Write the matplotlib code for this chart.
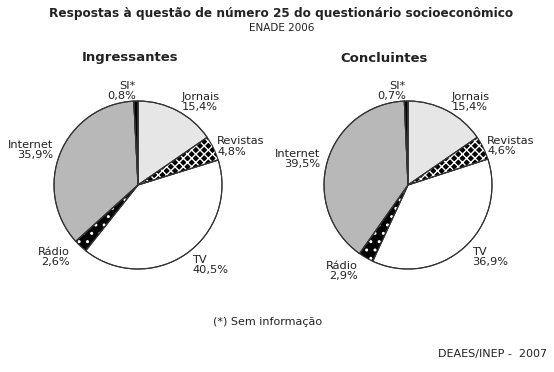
import matplotlib
matplotlib.use("Agg")
import matplotlib.pyplot as plt
import numpy as np

categories = ["Jornais", "Revistas", "TV", "Rádio", "Internet", "SI*"]
ingressantes = [15.4, 4.8, 40.5, 2.6, 35.9, 0.8]
concluintes = [15.4, 4.6, 36.9, 2.9, 39.5, 0.7]

colors = ["#e6e6e6", "black", "white", "black", "#b8b8b8", "black"]
hatches = [None, "xxxx", None, "..", None, None]
label_dist = [1.12, 1.05, 1.15, 1.18, 1.09, 1.12]

W, H = 554, 372


def draw_pie(ax, values):
    wedges, _ = ax.pie(values, colors=colors, startangle=90, counterclock=False,
                       wedgeprops=dict(edgecolor="#333333", linewidth=0.8))
    for w, h in zip(wedges, hatches):
        if h:
            w.set_hatch(h)
            w.set_edgecolor("white")
            w.set_linewidth(0)
    # outlines on top of the hatched slices
    ax.pie(values, startangle=90, counterclock=False,
           wedgeprops=dict(edgecolor="#333333", linewidth=0.8, fill=False))

    for w, cat, val, d in zip(wedges, categories, values, label_dist):
        ang = np.deg2rad((w.theta1 + w.theta2) / 2)
        x, y = d * np.cos(ang), d * np.sin(ang)
        txt = f"{cat}\n{val:.1f}%".replace(".", ",")
        ax.text(x, y, txt, ha="left" if x > 0 else "right", va="center",
                fontsize=8.2, linespacing=1.05, color="#222222")
    ax.set_xlim(-1, 1)
    ax.set_ylim(-1, 1)
    ax.set_aspect("equal")
    ax.axis("off")


fig = plt.figure(figsize=(W / 100, H / 100), dpi=100)
r = 84
ax1 = fig.add_axes([(138 - r) / W, (H - 185 - r) / H, 2 * r / W, 2 * r / H])
ax2 = fig.add_axes([(408 - r) / W, (H - 185 - r) / H, 2 * r / W, 2 * r / H])
draw_pie(ax1, ingressantes)
draw_pie(ax2, concluintes)

fig.text(281 / W, 1 - 13 / H, "Respostas à questão de número 25 do questionário socioeconômico",
         ha="center", va="center", fontsize=8.7, fontweight="bold", color="#222222")
fig.text(282 / W, 1 - 28 / H, "ENADE 2006", ha="center", va="center", fontsize=7.5, color="#222222")
fig.text(130 / W, 1 - 58 / H, "Ingressantes", ha="center", va="center", fontsize=9.5,
         fontweight="bold", color="#222222")
fig.text(384 / W, 1 - 58 / H, "Concluintes", ha="center", va="center", fontsize=9.5,
         fontweight="bold", color="#222222")
fig.text(268 / W, 1 - 322 / H, "(*) Sem informação", ha="center", va="center", fontsize=8,
         color="#222222")
fig.text(547 / W, 1 - 354 / H, "DEAES/INEP -  2007", ha="right", va="center", fontsize=8,
         color="#222222")

fig.savefig("out.png", dpi=100, facecolor="white")
